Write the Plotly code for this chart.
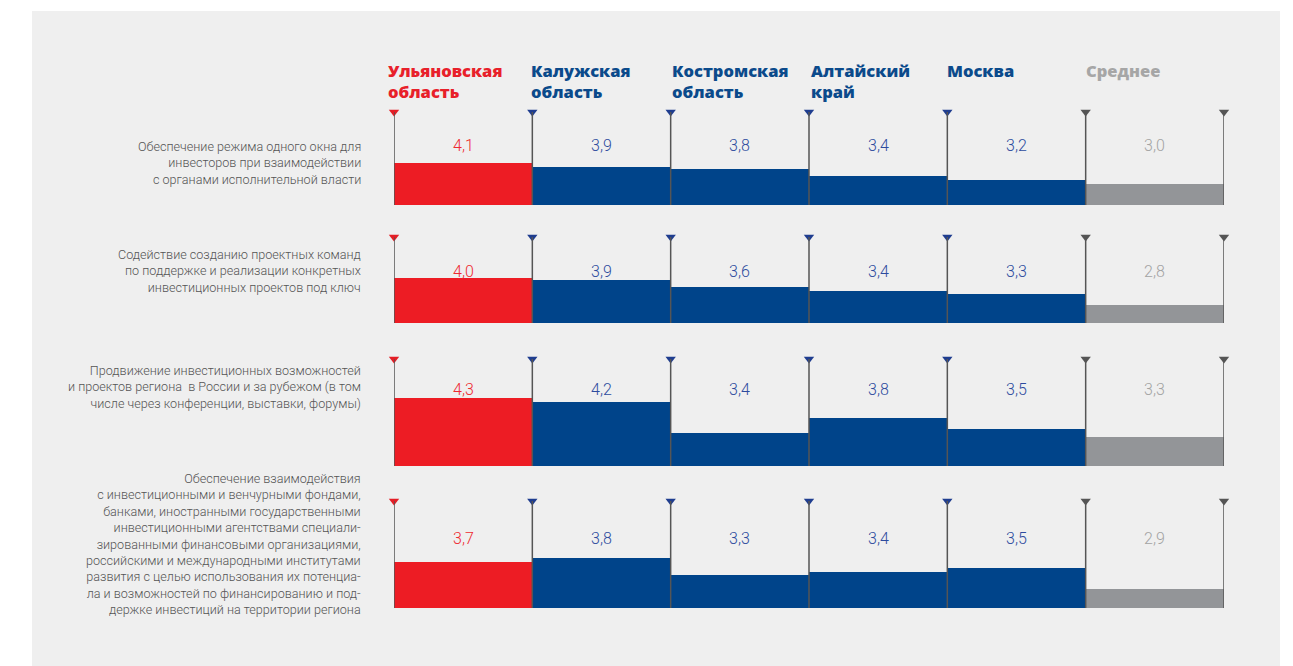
import plotly.graph_objects as go

# ---------------- data ----------------
regions = ["Ульяновская<br>область", "Калужская<br>область", "Костромская<br>область",
           "Алтайский<br>край", "Москва", "Среднее"]

criteria = [
    "Обеспечение режима одного окна для<br>инвесторов при взаимодействии<br>с органами исполнительной власти",
    "Содействие созданию проектных команд<br>по поддержке и реализации конкретных<br>инвестиционных проектов под ключ",
    "Продвижение инвестиционных возможностей<br>и проектов региона  в России и за рубежом (в том<br>числе через конференции, выставки, форумы)",
    "Обеспечение взаимодействия<br>с инвестиционными и венчурными фондами,<br>банками, иностранными государственными<br>инвестиционными агентствами специали-<br>зированными финансовыми организациями,<br>российскими и международными институтами<br>развития с целью использования их потенциа-<br>ла и возможностей по финансированию и под-<br>держке инвестиций на территории региона",
]

row1_values = [4.1, 3.9, 3.8, 3.4, 3.2, 3.0]
row2_values = [4.0, 3.9, 3.6, 3.4, 3.3, 2.8]
row3_values = [4.3, 4.2, 3.4, 3.8, 3.5, 3.3]
row4_values = [3.7, 3.8, 3.3, 3.4, 3.5, 2.9]
rows = [row1_values, row2_values, row3_values, row4_values]

# ---------------- styles ----------------
OFF = 8                      # page body margin
W, H = 1293 - OFF, 666 - OFF
def px(x):
    return (x - OFF) / W
def py(y):
    return 1 - (y - OFF) / H

RED, BLUE, GRAY = "#ed1c24", "#00448a", "#939598"
bar_colors = [RED, BLUE, BLUE, BLUE, BLUE, GRAY]
text_colors = ["#ee2a30", "#2d4b9e", "#2d4b9e", "#2d4b9e", "#2d4b9e", "#a3a3a3"]
head_colors = ["#e8202a", "#0b4a8b", "#0b4a8b", "#0b4a8b", "#0b4a8b", "#a6a6a6"]
tri_colors = ["#e41e26", "#1f3d8f", "#1f3d8f", "#1f3d8f", "#1f3d8f", "#555555", "#555555"]

row_top = [112, 237, 359, 501]
row_base = [205, 323, 466, 608]
y_ranges = [[1.89, 6.76], [2.0, 5.82], [2.55, 5.31], [2.34, 5.48]]
label_frac = [0.645, 0.733, 0.822, 0.654]
crit_y = [163, 271, 387, 544]

x_dom = [px(394), px(1224)]
x_cat = list(range(len(regions)))
edges = [i - 0.5 for i in range(len(regions) + 1)]

fig = go.Figure()
shapes = []
annotations = []

# panel background
shapes.append(dict(type="rect", xref="paper", yref="paper", x0=px(32), x1=px(1280),
                   y0=0, y1=py(11), fillcolor="#efefef", line_width=0, layer="below"))

for r, vals in enumerate(rows):
    n = r + 1
    xa = "x" if n == 1 else f"x{n}"
    ya = "y" if n == 1 else f"y{n}"
    fig.add_trace(go.Bar(x=x_cat, y=vals, width=1.0, marker=dict(color=bar_colors, line_width=0),
                         xaxis=xa, yaxis=ya, showlegend=False, hoverinfo="skip"))
    for e in edges:
        shapes.append(dict(type="line", xref=xa, yref=f"{ya} domain", x0=e, x1=e, y0=0, y1=1,
                           line=dict(color="#555555", width=1.5), layer="above"))
    fig.add_trace(go.Scatter(x=edges, y=[y_ranges[r][1]] * len(edges), mode="markers",
                             marker=dict(symbol="triangle-down", size=9, color=tri_colors, line_width=0),
                             xaxis=xa, yaxis=ya, cliponaxis=False, showlegend=False, hoverinfo="skip"))
    for i, v in enumerate(vals):
        annotations.append(dict(x=x_cat[i], y=label_frac[r], xref=xa, yref=f"{ya} domain",
                                text=f"{v:.1f}".replace(".", ","), showarrow=False,
                                font=dict(family="Roboto", size=16, color=text_colors[i], weight=300)))
    annotations.append(dict(x=px(363), y=py(crit_y[r]), xref="paper", yref="paper",
                            xanchor="right", yanchor="middle", align="right", text=criteria[r],
                            showarrow=False,
                            font=dict(family="Roboto", size=12.6, color="#555555", weight=300)))
    dom = [py(row_base[r]), py(row_top[r])]
    fig.update_layout({
        ("xaxis" if n == 1 else f"xaxis{n}"): dict(domain=x_dom, range=[-0.5, 5.5], visible=False,
                                                  anchor=ya, fixedrange=True),
        ("yaxis" if n == 1 else f"yaxis{n}"): dict(domain=dom, range=y_ranges[r], visible=False,
                                                  anchor=xa, fixedrange=True),
    })

# headers
head_x = [386, 529, 670, 809, 945, 1084]
for i, name in enumerate(regions):
    annotations.append(dict(x=px(head_x[i]), y=py(71), xref="paper", yref="paper",
                            xanchor="left", yanchor="top", align="left", text=name,
                            showarrow=False, yshift=14,
                            font=dict(family="Open Sans", size=16.5, color=head_colors[i], weight=800)))

fig.update_layout(width=W, height=H, margin=dict(l=0, r=0, t=0, b=0),
                  paper_bgcolor="white", plot_bgcolor="rgba(0,0,0,0)",
                  bargap=0, shapes=shapes, annotations=annotations, showlegend=False)

fig.write_html("out.html", config={"displayModeBar": False})
